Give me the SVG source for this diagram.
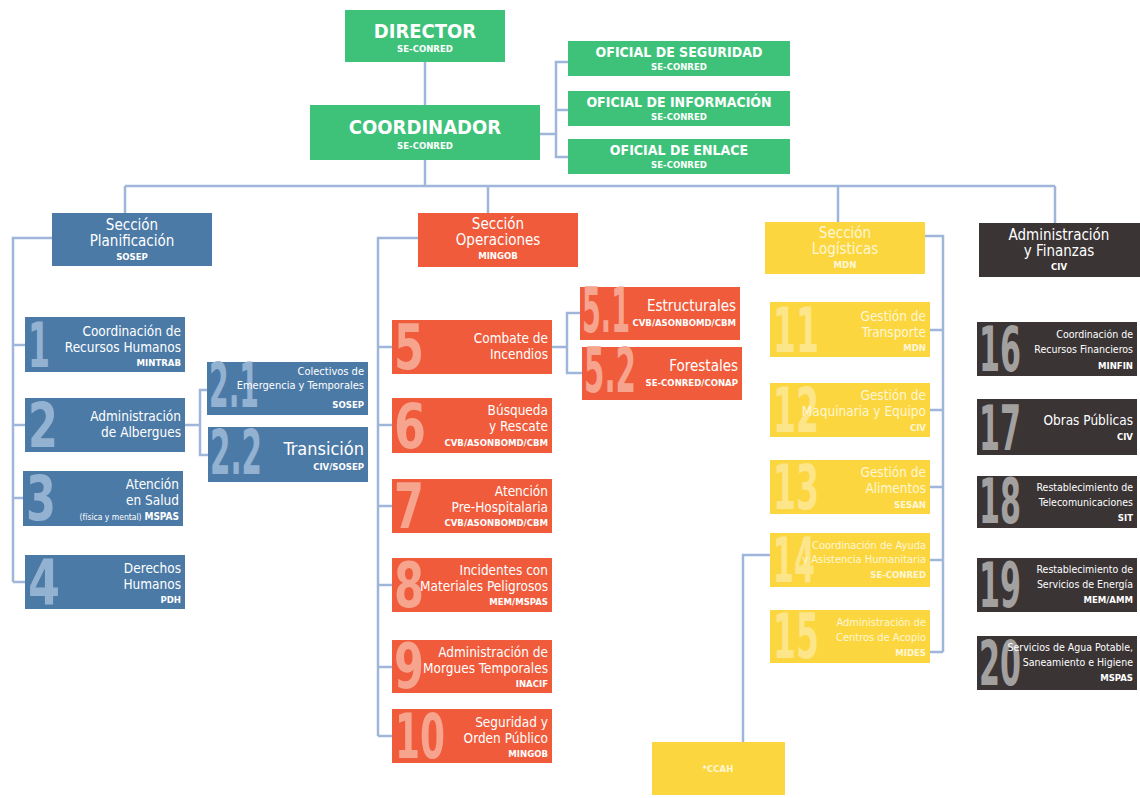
<svg xmlns="http://www.w3.org/2000/svg" width="1140" height="798" viewBox="0 0 1140 798">
<style>
.c{stroke:#9fb6da;stroke-width:2.5;fill:none}
.t{font-family:"DejaVu Sans Condensed","Liberation Sans Narrow","Liberation Sans",sans-serif;fill:#fff}
.m{font-size:13.5px}
.s{font-size:9.5px;font-weight:bold}
.h{font-size:15px}
.r{text-anchor:end}
.mid{text-anchor:middle}
.n{font-family:"DejaVu Sans Condensed","Liberation Sans",sans-serif;font-weight:bold;font-size:62px}
.g{fill:#3ec27a}
.b{fill:#4c7aa7}
.o{fill:#f05b3b}
.y{fill:#fcd63f}
.d{fill:#3a3435}
.nb{fill:#93b2d2}
.no{fill:#f7a48f}
.ny{fill:#fde58a}
.nd{fill:#a3a0a0}
.ty{fill:#fff7d6}
</style>
<rect width="1140" height="798" fill="#ffffff"/>
<g id="connectors">
<path class="c" d="M425 62V105"/>
<path class="c" d="M540 134H556M568 62H556V157H568M556 110H568"/>
<path class="c" d="M425 160V186M125 186H1055M125 186V213M488 186V213M838 186V222M1055 186V223"/>
<path class="c" d="M52 238H13V582M13 345H25M13 425H25M13 498H25M13 582H25"/>
<path class="c" d="M185 425H200M208 390H200V455H208"/>
<path class="c" d="M418 238H378V736M378 347H392M378 425H392M378 506H392M378 585H392M378 667H392M378 736H392"/>
<path class="c" d="M552 347H567M580 313H567V373H582"/>
<path class="c" d="M925 236H943V652M930 330H943M930 410H943M930 487H943M930 560H943M930 652H943"/>
<path class="c" d="M770 555H743V742"/>
</g>
<g id="director"><rect class="g" x="345" y="10" width="160" height="52"/><text class="t mid" x="425" y="38" font-size="20" font-weight="bold">DIRECTOR</text><text class="t s mid" x="425" y="52">SE-CONRED</text></g>
<g id="coordinador"><rect class="g" x="310" y="105" width="230" height="55"/><text class="t mid" x="425" y="134" font-size="20" font-weight="bold">COORDINADOR</text><text class="t s mid" x="425" y="149">SE-CONRED</text></g>
<g id="of-seguridad"><rect class="g" x="568" y="41" width="222" height="35"/><text class="t mid" x="679" y="57" font-size="14" font-weight="bold">OFICIAL DE SEGURIDAD</text><text class="t s mid" x="679" y="70">SE-CONRED</text></g>
<g id="of-informacion"><rect class="g" x="568" y="91" width="222" height="35"/><text class="t mid" x="679" y="107" font-size="14" font-weight="bold">OFICIAL DE INFORMACIÓN</text><text class="t s mid" x="679" y="120">SE-CONRED</text></g>
<g id="of-enlace"><rect class="g" x="568" y="139" width="222" height="35"/><text class="t mid" x="679" y="155" font-size="14" font-weight="bold">OFICIAL DE ENLACE</text><text class="t s mid" x="679" y="168">SE-CONRED</text></g>

<g id="planificacion"><rect class="b" x="52" y="213" width="160" height="53"/><text class="t h mid" x="132" y="230">Sección</text><text class="t h mid" x="132" y="246">Planificación</text><text class="t s mid" x="132" y="260">SOSEP</text></g>
<g id="n1"><rect class="b" x="25" y="317" width="160" height="55"/><text class="n nb" x="28" y="367" textLength="22" lengthAdjust="spacingAndGlyphs">1</text><text class="t m r" x="181" y="336">Coordinación de</text><text class="t m r" x="181" y="352">Recursos Humanos</text><text class="t s r" x="181" y="366">MINTRAB</text></g>
<g id="n2"><rect class="b" x="25" y="398" width="160" height="54"/><text class="n nb" x="28" y="447" textLength="30" lengthAdjust="spacingAndGlyphs">2</text><text class="t m r" x="181" y="421">Administración</text><text class="t m r" x="181" y="437">de Albergues</text></g>
<g id="n2-1"><rect class="b" x="207" y="362" width="161" height="53"/><text class="n nb" x="209" y="407" font-size="44" textLength="50" lengthAdjust="spacingAndGlyphs">2.1</text><text class="t r" x="364" y="375" font-size="11">Colectivos de</text><text class="t r" x="364" y="389" font-size="11">Emergencia y Temporales</text><text class="t s r" x="364" y="408">SOSEP</text></g>
<g id="n2-2"><rect class="b" x="208" y="427" width="160" height="55"/><text class="n nb" x="210" y="474" font-size="44" textLength="52" lengthAdjust="spacingAndGlyphs">2.2</text><text class="t r" x="364" y="455" font-size="18">Transición</text><text class="t s r" x="364" y="470">CIV/SOSEP</text></g>
<g id="n3"><rect class="b" x="23" y="471" width="160" height="55"/><text class="n nb" x="26" y="520" textLength="30" lengthAdjust="spacingAndGlyphs">3</text><text class="t m r" x="179" y="489">Atención</text><text class="t m r" x="179" y="505">en Salud</text><text class="t r" x="179" y="520" font-size="10"><tspan font-size="8.5">(física y mental)</tspan> <tspan font-weight="bold">MSPAS</tspan></text></g>
<g id="n4"><rect class="b" x="25" y="555" width="160" height="54"/><text class="n nb" x="28" y="604" textLength="32" lengthAdjust="spacingAndGlyphs">4</text><text class="t m r" x="181" y="573">Derechos</text><text class="t m r" x="181" y="589">Humanos</text><text class="t s r" x="181" y="603">PDH</text></g>

<g id="operaciones"><rect class="o" x="418" y="213" width="160" height="54"/><text class="t h mid" x="498" y="229">Sección</text><text class="t h mid" x="498" y="245">Operaciones</text><text class="t s mid" x="498" y="259">MINGOB</text></g>
<g id="n5"><rect class="o" x="392" y="320" width="160" height="54"/><text class="n no" x="394" y="369" textLength="30" lengthAdjust="spacingAndGlyphs">5</text><text class="t m r" x="548" y="343">Combate de</text><text class="t m r" x="548" y="359">Incendios</text></g>
<g id="n5-1"><rect class="o" x="580" y="287" width="160" height="53"/><text class="n no" x="582" y="332" font-size="44" textLength="48" lengthAdjust="spacingAndGlyphs">5.1</text><text class="t r" x="736" y="311" font-size="15">Estructurales</text><text class="t s r" x="736" y="326">CVB/ASONBOMD/CBM</text></g>
<g id="n5-2"><rect class="o" x="582" y="347" width="160" height="53"/><text class="n no" x="584" y="392" font-size="44" textLength="52" lengthAdjust="spacingAndGlyphs">5.2</text><text class="t r" x="738" y="371" font-size="15">Forestales</text><text class="t s r" x="738" y="386">SE-CONRED/CONAP</text></g>
<g id="n6"><rect class="o" x="392" y="398" width="160" height="55"/><text class="n no" x="394" y="448" textLength="32" lengthAdjust="spacingAndGlyphs">6</text><text class="t m r" x="548" y="415">Búsqueda</text><text class="t m r" x="548" y="431">y Rescate</text><text class="t s r" x="548" y="446">CVB/ASONBOMD/CBM</text></g>
<g id="n7"><rect class="o" x="392" y="479" width="160" height="54"/><text class="n no" x="394" y="528" textLength="30" lengthAdjust="spacingAndGlyphs">7</text><text class="t m r" x="548" y="496">Atención</text><text class="t m r" x="548" y="512">Pre-Hospitalaria</text><text class="t s r" x="548" y="526">CVB/ASONBOMD/CBM</text></g>
<g id="n8"><rect class="o" x="392" y="558" width="160" height="54"/><text class="n no" x="394" y="607" textLength="30" lengthAdjust="spacingAndGlyphs">8</text><text class="t m r" x="548" y="575">Incidentes con</text><text class="t m r" x="548" y="591">Materiales Peligrosos</text><text class="t s r" x="548" y="605">MEM/MSPAS</text></g>
<g id="n9"><rect class="o" x="392" y="640" width="160" height="53"/><text class="n no" x="394" y="688" textLength="30" lengthAdjust="spacingAndGlyphs">9</text><text class="t m r" x="548" y="657">Administración de</text><text class="t m r" x="548" y="673">Morgues Temporales</text><text class="t s r" x="548" y="687">INACIF</text></g>
<g id="n10"><rect class="o" x="392" y="709" width="160" height="54"/><text class="n no" x="395" y="758" textLength="50" lengthAdjust="spacingAndGlyphs">10</text><text class="t m r" x="548" y="727">Seguridad y</text><text class="t m r" x="548" y="743">Orden Público</text><text class="t s r" x="548" y="757">MINGOB</text></g>

<g id="logistica"><rect class="y" x="765" y="222" width="160" height="52"/><text class="t h mid ty" x="845" y="238">Sección</text><text class="t h mid ty" x="845" y="254">Logísticas</text><text class="t s mid ty" x="845" y="268">MDN</text></g>
<g id="n11"><rect class="y" x="770" y="302" width="160" height="55"/><text class="n ny" x="773" y="352" textLength="46" lengthAdjust="spacingAndGlyphs">11</text><text class="t m r ty" x="926" y="321">Gestión de</text><text class="t m r ty" x="926" y="337">Transporte</text><text class="t s r ty" x="926" y="351">MDN</text></g>
<g id="n12"><rect class="y" x="770" y="383" width="160" height="54"/><text class="n ny" x="773" y="432" textLength="46" lengthAdjust="spacingAndGlyphs">12</text><text class="t m r ty" x="926" y="400">Gestión de</text><text class="t m r ty" x="926" y="416">Maquinaria y Equipo</text><text class="t s r ty" x="926" y="431">CIV</text></g>
<g id="n13"><rect class="y" x="770" y="460" width="160" height="54"/><text class="n ny" x="773" y="509" textLength="46" lengthAdjust="spacingAndGlyphs">13</text><text class="t m r ty" x="926" y="477">Gestión de</text><text class="t m r ty" x="926" y="493">Alimentos</text><text class="t s r ty" x="926" y="508">SESAN</text></g>
<g id="n14"><rect class="y" x="770" y="533" width="160" height="54"/><text class="n ny" x="773" y="582" textLength="42" lengthAdjust="spacingAndGlyphs">14</text><text class="t r ty" x="926" y="549" font-size="11">Coordinación de Ayuda</text><text class="t r ty" x="926" y="563" font-size="11">y Asistencia Humanitaria</text><text class="t s r ty" x="926" y="578">SE-CONRED</text></g>
<g id="n15"><rect class="y" x="770" y="610" width="160" height="53"/><text class="n ny" x="773" y="658" textLength="46" lengthAdjust="spacingAndGlyphs">15</text><text class="t r ty" x="926" y="626" font-size="11">Administración de</text><text class="t r ty" x="926" y="641" font-size="11">Centros de Acopio</text><text class="t s r ty" x="926" y="656">MIDES</text></g>
<g id="ccah"><rect class="y" x="652" y="742" width="133" height="53"/><text class="t s mid ty" x="718" y="772">*CCAH</text></g>

<g id="admin"><rect class="d" x="979" y="223" width="161" height="54"/><text class="t h mid" x="1059" y="240">Administración</text><text class="t h mid" x="1059" y="256">y Finanzas</text><text class="t s mid" x="1059" y="270">CIV</text></g>
<g id="n16"><rect class="d" x="977" y="322" width="160" height="54"/><text class="n nd" x="979" y="371" textLength="42" lengthAdjust="spacingAndGlyphs">16</text><text class="t r" x="1133" y="338" font-size="10.5">Coordinación de</text><text class="t r" x="1133" y="353" font-size="10.5">Recursos Financieros</text><text class="t s r" x="1133" y="369">MINFIN</text></g>
<g id="n17"><rect class="d" x="977" y="399" width="160" height="56"/><text class="n nd" x="979" y="450" textLength="42" lengthAdjust="spacingAndGlyphs">17</text><text class="t m r" x="1133" y="425">Obras Públicas</text><text class="t s r" x="1133" y="440">CIV</text></g>
<g id="n18"><rect class="d" x="977" y="476" width="160" height="52"/><text class="n nd" x="979" y="523" textLength="42" lengthAdjust="spacingAndGlyphs">18</text><text class="t r" x="1133" y="491" font-size="10.5">Restablecimiento de</text><text class="t r" x="1133" y="506" font-size="10.5">Telecomunicaciones</text><text class="t s r" x="1133" y="521">SIT</text></g>
<g id="n19"><rect class="d" x="977" y="558" width="160" height="54"/><text class="n nd" x="979" y="607" textLength="42" lengthAdjust="spacingAndGlyphs">19</text><text class="t r" x="1133" y="573" font-size="10.5">Restablecimiento de</text><text class="t r" x="1133" y="588" font-size="10.5">Servicios de Energía</text><text class="t s r" x="1133" y="603">MEM/AMM</text></g>
<g id="n20"><rect class="d" x="977" y="636" width="160" height="54"/><text class="n nd" x="979" y="685" textLength="42" lengthAdjust="spacingAndGlyphs">20</text><text class="t r" x="1133" y="651" font-size="10.5">Servicios de Agua Potable,</text><text class="t r" x="1133" y="666" font-size="10.5">Saneamiento e Higiene</text><text class="t s r" x="1133" y="681">MSPAS</text></g>
</svg>
